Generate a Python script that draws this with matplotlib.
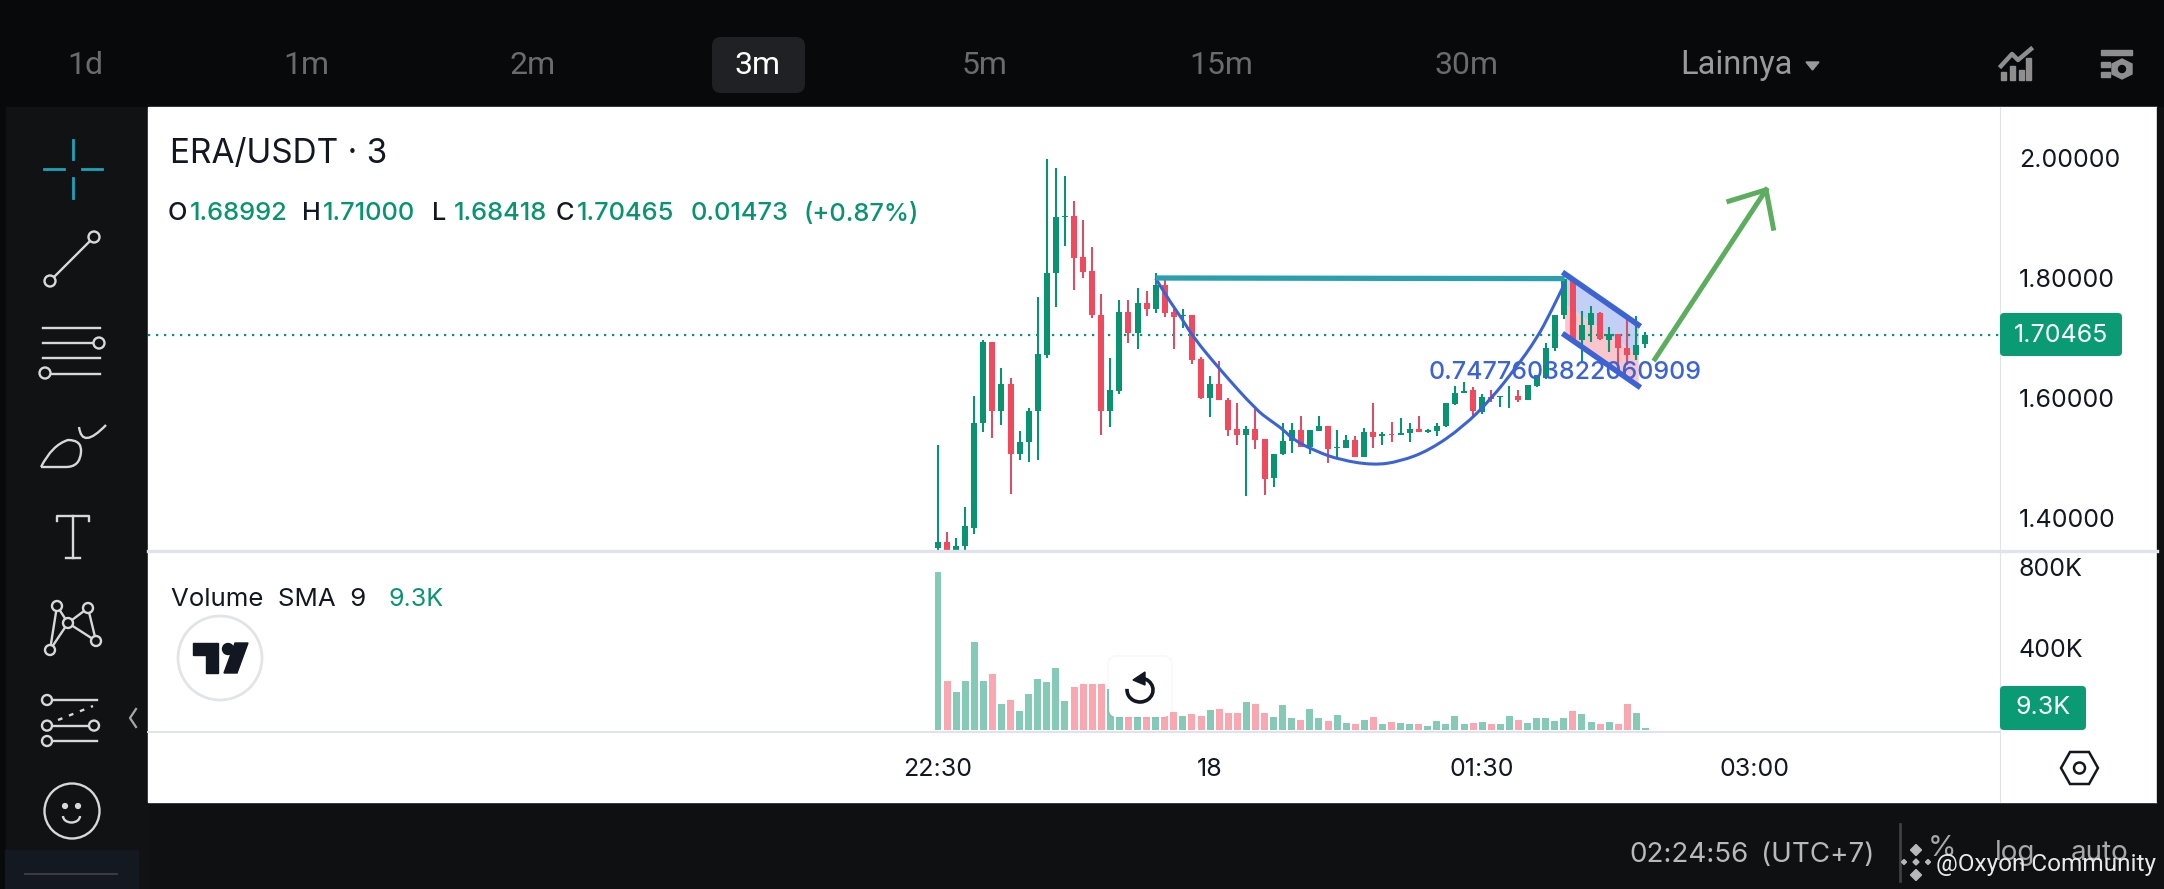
import numpy as np
import matplotlib
matplotlib.use("Agg")
import matplotlib.pyplot as plt
from matplotlib.patches import Circle, FancyBboxPatch, PathPatch, Polygon, Rectangle, Arc
from matplotlib.path import Path

W, H = 2164, 889
plt.rcParams["font.family"] = ["Inter", "DejaVu Sans"]

# ---- candles --------------------------------------------------------------
opens = [1.350, 1.360, 1.346, 1.353, 1.384, 1.558, 1.693, 1.579, 1.623, 1.507,
         1.527, 1.579, 1.672, 1.809, 1.901, 1.903, 1.835, 1.811, 1.739, 1.579,
         1.612, 1.744, 1.709, 1.758, 1.748, 1.788, 1.743, 1.736, 1.738, 1.665,
         1.600, 1.624, 1.597, 1.548, 1.539, 1.548, 1.531, 1.466, 1.506, 1.529,
         1.546, 1.519, 1.545, 1.553, 1.516, 1.517, 1.530, 1.502, 1.543, 1.537,
         1.540, 1.538, 1.541, 1.549, 1.544, 1.545, 1.553, 1.590, 1.609, 1.613,
         1.577, 1.602, 1.601, 1.603, 1.604, 1.597, 1.620, 1.633, 1.684, 1.739,
         1.798, 1.697, 1.721, 1.741, 1.697, 1.706, 1.684, 1.672, 1.690]
highs = [1.522, 1.377, 1.366, 1.418, 1.603, 1.697, 1.693, 1.650, 1.633, 1.545,
         1.584, 1.768, 1.999, 1.984, 1.970, 1.929, 1.897, 1.851, 1.773, 1.666,
         1.763, 1.763, 1.783, 1.778, 1.809, 1.802, 1.749, 1.749, 1.739, 1.669,
         1.636, 1.661, 1.600, 1.591, 1.553, 1.581, 1.531, 1.506, 1.558, 1.558,
         1.570, 1.547, 1.570, 1.553, 1.547, 1.539, 1.537, 1.550, 1.591, 1.544,
         1.560, 1.566, 1.559, 1.570, 1.549, 1.559, 1.591, 1.620, 1.626, 1.618,
         1.607, 1.614, 1.604, 1.620, 1.613, 1.622, 1.638, 1.692, 1.739, 1.799,
         1.799, 1.745, 1.753, 1.743, 1.718, 1.706, 1.738, 1.737, 1.710]
lows = [1.347, 1.344, 1.344, 1.347, 1.374, 1.544, 1.534, 1.555, 1.440, 1.497,
        1.494, 1.496, 1.666, 1.752, 1.853, 1.780, 1.800, 1.734, 1.539, 1.551,
        1.607, 1.691, 1.681, 1.737, 1.741, 1.735, 1.681, 1.716, 1.657, 1.599,
        1.569, 1.596, 1.537, 1.522, 1.436, 1.515, 1.438, 1.451, 1.505, 1.509,
        1.518, 1.506, 1.545, 1.492, 1.498, 1.517, 1.502, 1.501, 1.517, 1.521,
        1.526, 1.538, 1.526, 1.544, 1.542, 1.537, 1.552, 1.589, 1.608, 1.569,
        1.574, 1.593, 1.585, 1.584, 1.593, 1.597, 1.619, 1.631, 1.679, 1.732,
        1.694, 1.658, 1.694, 1.697, 1.676, 1.649, 1.655, 1.664, 1.684]
closes = [1.360, 1.347, 1.354, 1.386, 1.558, 1.693, 1.579, 1.623, 1.507, 1.527,
          1.579, 1.673, 1.809, 1.901, 1.903, 1.834, 1.810, 1.738, 1.579, 1.613,
          1.744, 1.709, 1.758, 1.748, 1.788, 1.741, 1.735, 1.738, 1.663, 1.600,
          1.624, 1.596, 1.547, 1.538, 1.548, 1.530, 1.465, 1.506, 1.529, 1.546,
          1.519, 1.547, 1.553, 1.515, 1.518, 1.530, 1.502, 1.543, 1.535, 1.540,
          1.538, 1.541, 1.549, 1.544, 1.546, 1.554, 1.591, 1.609, 1.611, 1.578,
          1.601, 1.598, 1.603, 1.604, 1.597, 1.622, 1.638, 1.684, 1.739, 1.798,
          1.697, 1.721, 1.741, 1.698, 1.706, 1.683, 1.672, 1.689, 1.705]
# volume in thousands
volumes = [775, 240, 182, 236, 427, 236, 270, 123, 147, 93,
           172, 250, 231, 304, 142, 211, 221, 221, 221, 201,
           191, 159, 142, 93, 110, 110, 88, 64, 74, 64,
           98, 103, 83, 79, 133, 123, 79, 59, 118, 54,
           49, 103, 54, 44, 69, 34, 29, 49, 59, 29,
           39, 34, 25, 25, 15, 44, 29, 64, 29, 34,
           39, 25, 29, 64, 49, 34, 54, 54, 44, 54,
           93, 74, 39, 29, 39, 29, 123, 83, 9.3]

price_ticks = [1.4, 1.6, 1.8, 2.0]
price_labels = ["1.40000", "1.60000", "1.80000", "2.00000"]
vol_ticks = [400, 800]
vol_labels = ["400K", "800K"]
time_ticks = [0, 30, 60, 90]
time_labels = ["22:30", "18", "01:30", "03:00"]
last_price = 1.70465
last_volume = 9.3

# ---- drawings on the chart (bar index, price) ------------------------------
cup_x = [24.0, 25.2, 27.0, 28.1, 31.1, 35.1, 36.6, 38.1, 39.2, 41.7, 44.3, 48.0,
         50.9, 54.2, 57.9, 60.9, 63.8, 66.0, 67.5, 69.1]
cup_y = [1.7995, 1.769, 1.730, 1.702, 1.647, 1.580, 1.563, 1.547, 1.530, 1.511, 1.497, 1.488,
         1.494, 1.513, 1.552, 1.597, 1.652, 1.699, 1.741, 1.791]
rim_x = [24.0, 69.1]
rim_y = [1.8, 1.799]
flag_x = [69.1, 77.2]
flag_top = [1.807, 1.722]
flag_mid = [1.756, 1.671]
flag_bot = [1.705, 1.620]
arrow_x = [79.05, 91.3]
arrow_y = [1.665, 1.947]
arrow_head_x = [87.2, 91.3, 92.1]
arrow_head_y = [1.928, 1.947, 1.883]

GREEN = "#0a9370"
RED = "#f04a5f"
TEXT = "#131722"
GRID = "#e0e3eb"


def px_axes(fig, x0, y0, x1, y1, **kw):
    return fig.add_axes([x0 / W, 1 - y1 / H, (x1 - x0) / W, (y1 - y0) / H], **kw)


def smooth_path(xs, ys):
    """Quadratic spline that bends at the read points, so the cup has no corners."""
    pts = np.column_stack([xs, ys])
    verts, codes = [pts[0]], [Path.MOVETO]
    for i in range(1, len(pts) - 1):
        end = pts[i + 1] if i == len(pts) - 2 else (pts[i] + pts[i + 1]) / 2
        verts += [pts[i], end]
        codes += [Path.CURVE3, Path.CURVE3]
    return Path(verts, codes)


fig = plt.figure(figsize=(W / 100, H / 100), dpi=100, facecolor="#0f1012")

# ---- dark app chrome underneath --------------------------------------------
bg = px_axes(fig, 0, 0, W, H, zorder=0)
bg.set_xlim(0, W); bg.set_ylim(H, 0); bg.axis("off")
bg.add_patch(Rectangle((0, 0), W, 107, color="#08090b"))
bg.add_patch(Rectangle((0, 107), 6, H, color="#08090b"))
bg.add_patch(Rectangle((6, 107), 142, H, color="#111214"))
bg.add_patch(Rectangle((5, 850), 133, 40, color="#141820"))
bg.add_patch(Rectangle((148, 107), 2009, 695, color="white"))
bg.add_patch(Rectangle((2157, 107), 8, 695, color="#0f1012"))
bg.add_patch(FancyBboxPatch((712, 37), 93, 56, boxstyle="round,pad=0,rounding_size=9",
                            color="#202124", lw=0))

for lab, x in zip(["1d", "1m", "2m", "5m", "15m", "30m"],
                  [85, 306, 533, 985, 1221, 1466]):
    bg.text(x, 65, lab, color="#6a6b6d", fontsize=23, ha="center", va="center", family="Roboto")
bg.text(758, 65, "3m", color="white", fontsize=23, ha="center", va="center", family="Roboto")
bg.text(1736, 65, "Lainnya", color="#9a9a9a", fontsize=23.5, ha="center", va="center", family="Roboto")
bg.add_patch(Polygon([(1806, 62), (1819, 62), (1812.5, 70)], color="#9a9a9a"))

# top right icons
c = "#8e8e8e"
for x, y0 in [(2001, 72), (2010, 66), (2019, 70), (2026, 58)]:
    bg.add_patch(Rectangle((x, y0), 5, 80 - y0, color=c))
bg.plot([2001, 2012, 2018, 2031], [66, 54, 60, 49], color=c, lw=3.2)
bg.add_patch(Rectangle((2101, 50), 31, 5, color=c))
bg.add_patch(Rectangle((2101, 62), 9, 5, color=c))
bg.add_patch(Rectangle((2101, 72), 9, 5, color=c))
bg.add_patch(Polygon([(2122, 59), (2132, 64), (2132, 74), (2122, 79), (2112, 74), (2112, 64)], color=c))
bg.add_patch(Circle((2122, 69), 3.5, color="#08090b"))

# toolbar icons
ic = "#d8d8d8"
lw = 1.7


def ring(x, y, r=5.5):
    bg.add_patch(Circle((x, y), r, fc="#111214", ec=ic, lw=lw, zorder=4))


teal = "#1ca3b8"
bg.plot([44, 64], [168.5, 168.5], color=teal, lw=2)
bg.plot([82, 102], [168.5, 168.5], color=teal, lw=2)
bg.plot([73, 73], [140, 159], color=teal, lw=2)
bg.plot([73, 73], [178, 198], color=teal, lw=2)

bg.plot([50, 94], [281, 237], color=ic, lw=lw)
ring(50, 281); ring(94, 237)

for y in [327.5, 342.6, 358, 373.5]:
    bg.plot([43, 100], [y, y], color=ic, lw=lw)
ring(99, 343); ring(45, 373)

brush = Path([(41, 467), (52, 445), (68, 440), (82, 440), (81, 452), (80, 467), (66, 467), (41, 467)],
             [Path.MOVETO, Path.CURVE3, Path.CURVE3, Path.CURVE3, Path.CURVE3, Path.CURVE3, Path.CURVE3, Path.LINETO])
bg.add_patch(PathPatch(brush, fc="none", ec=ic, lw=lw))
hook = Path([(79, 427), (82, 450), (106, 425)], [Path.MOVETO, Path.CURVE3, Path.CURVE3])
bg.add_patch(PathPatch(hook, fc="none", ec=ic, lw=lw))

bg.plot([57, 57, 89, 89], [521, 516, 516, 521], color=ic, lw=lw)
bg.plot([73, 73], [516, 558], color=ic, lw=lw)
bg.plot([66, 80], [558, 558], color=ic, lw=lw)

nodes = [(57, 606), (88, 608), (68, 623), (50, 650), (96, 641)]
for a, b in [(0, 2), (0, 3), (2, 3), (2, 1), (2, 4), (1, 4)]:
    bg.plot([nodes[a][0], nodes[b][0]], [nodes[a][1], nodes[b][1]], color=ic, lw=lw)
for n in nodes:
    ring(n[0], n[1], 5)

for y in [700, 725.6, 741]:
    bg.plot([47, 97], [y, y], color=ic, lw=lw)
bg.plot([58, 93], [720, 706], color=ic, lw=lw, ls=(0, (2, 3)))
ring(47, 700, 5); ring(47, 725.6, 5); ring(94, 725.6, 5); ring(47, 741, 5)

bg.add_patch(Circle((72, 811), 27.5, fc="none", ec=ic, lw=lw))
bg.add_patch(Circle((65, 806), 2.4, color=ic))
bg.add_patch(Circle((78, 806), 2.4, color=ic))
bg.add_patch(Arc((71.5, 816), 17, 13, theta1=0, theta2=180, ec=ic, lw=lw))
bg.plot([136, 130, 136], [709, 718, 727], color="#a8a8a8", lw=1.6)
bg.plot([25, 117], [874, 874], color="#3a3d44", lw=1.4)

# bottom bar
bg.text(1629, 855, "02:24:56", color="#b9b9b9", fontsize=20, ha="left", va="center")
bg.text(1761, 855, "(UTC+7)", color="#b9b9b9", fontsize=20, ha="left", va="center")
bg.plot([1900, 1900], [824, 881], color="#3f4045", lw=2)
bg.text(1942, 849, "%", color="#a8a8a8", fontsize=21, ha="center", va="center")
bg.text(2015, 853, "log", color="#a8a8a8", fontsize=20, ha="center", va="center")
bg.text(2100, 853, "auto", color="#a8a8a8", fontsize=20, ha="center", va="center")

# ---- price pane -------------------------------------------------------------
bar_px = 9.07
x_lim = ((148 - 938) / bar_px, (2000 - 938) / bar_px)

ax = px_axes(fig, 148, 107, 2000, 551, zorder=2)
ax.patch.set_alpha(0)
ax.set_xlim(*x_lim)
ax.set_ylim(2 - (551 - 158) / 600, 2 - (107 - 158) / 600)

idx = np.arange(len(opens))
o, h, l, cl = map(np.array, (opens, highs, lows, closes))
up = cl >= o
ax.fill_between(flag_x, flag_mid, flag_top, color="#c3d0f6", lw=0, zorder=1)
ax.fill_between(flag_x, flag_bot, flag_mid, color="#f9c6cd", lw=0, zorder=1)
ax.axhline(last_price, color=GREEN, lw=1.6, ls=(0, (1, 2.6)), zorder=1.5)
ax.vlines(idx, l, h, colors=np.where(up, GREEN, "#d45269"), lw=1.5, zorder=2)
ax.bar(idx, cl - o, bottom=o, width=0.66, color=np.where(up, GREEN, RED), lw=0, zorder=3)

ax.add_patch(PathPatch(smooth_path(cup_x, cup_y), fc="none", ec="#3b63d4", lw=2.2, zorder=4))
ax.plot(rim_x, rim_y, color="#2b9fae", lw=3.8, zorder=4, solid_capstyle="butt")
ax.plot(flag_x, flag_top, color="#3b63d4", lw=4, zorder=4)
ax.plot(flag_x, flag_bot, color="#3b63d4", lw=4, zorder=4)
ax.plot(arrow_x, arrow_y, color="#5cae5e", lw=3.6, zorder=4)
ax.plot(arrow_head_x, arrow_head_y, color="#5cae5e", lw=3.6, zorder=4)
ax.text(69.1, 1.643, "0.7477603822060909", color="#3b63d4", fontsize=18, ha="center", va="center",
        fontweight="medium", zorder=5)

ax.set_xticks([])
ax.yaxis.tick_right()
ax.set_yticks(price_ticks, price_labels)
ax.tick_params(axis="y", length=0, pad=13.5, labelsize=18, labelcolor=TEXT)
for s in ["top", "left", "bottom"]:
    ax.spines[s].set_visible(False)
ax.spines["right"].set_color(GRID)

# ---- volume pane ------------------------------------------------------------
av = px_axes(fig, 148, 551, 2000, 732, zorder=2)
av.patch.set_alpha(0)
av.set_xlim(*x_lim)
av.set_ylim(-2.5 * 4.908, (729.5 - 551) * 4.908)
av.bar(idx, volumes, width=0.77, color=np.where(up, "#85cab6", "#f9a8b2"), lw=0)
av.set_xticks([])
av.yaxis.tick_right()
av.set_yticks(vol_ticks, vol_labels)
av.tick_params(axis="y", length=0, pad=13.5, labelsize=18, labelcolor=TEXT)
for s in ["top", "left"]:
    av.spines[s].set_visible(False)
av.spines["right"].set_color(GRID)
av.spines["bottom"].set_color(GRID)
av.spines["bottom"].set_linewidth(1.4)

# ---- time axis --------------------------------------------------------------
at = px_axes(fig, 148, 732, 2000, 802, zorder=2)
at.patch.set_alpha(0)
at.set_xlim(*x_lim)
at.set_yticks([])
at.set_xticks(time_ticks, time_labels)
at.tick_params(axis="x", length=0, pad=-32, labelsize=18, labelcolor=TEXT)
for s in ["top", "left", "bottom"]:
    at.spines[s].set_visible(False)
at.spines["right"].set_color(GRID)

# ---- overlay: legends, badges, widgets ---------------------------------------
top = px_axes(fig, 0, 0, W, H, zorder=5)
top.set_xlim(0, W); top.set_ylim(H, 0); top.axis("off"); top.patch.set_alpha(0)

# pane divider
top.plot([148, 2157], [551, 551], color=GRID, lw=2.4)

top.text(170, 154, "ERA/USDT · 3", color=TEXT, fontsize=24, ha="left", va="center")
ohlc = [(168, "O", TEXT), (190, "1.68992", GREEN), (302, "H", TEXT), (323, "1.71000", GREEN),
        (432, "L", TEXT), (454, "1.68418", GREEN), (556, "C", TEXT), (577, "1.70465", GREEN),
        (691, "0.01473", GREEN), (803, "(+0.87%)", GREEN)]
for x, s, col in ohlc:
    top.text(x, 214, s, color=col, fontsize=18.3, ha="left", va="center", fontweight="medium")

top.text(171, 600, "Volume  SMA  9", color=TEXT, fontsize=18.6, ha="left", va="center")
top.text(388, 600, f"{last_volume}K", color=GREEN, fontsize=18, ha="left", va="center")

# last value badges
top.add_patch(FancyBboxPatch((2000, 313), 122, 43, boxstyle="round,pad=0,rounding_size=4", color="#0a9b74", lw=0))
top.text(2061, 335, f"{last_price:.5f}", color="white", fontsize=18, ha="center", va="center")
top.add_patch(FancyBboxPatch((2000, 686), 86, 44, boxstyle="round,pad=0,rounding_size=4", color="#0a9b74", lw=0))
top.text(2043, 708, f"{last_volume}K", color="white", fontsize=18, ha="center", va="center")

# tradingview badge
top.add_patch(Circle((220, 658), 42, fc="white", ec="#e2e4e9", lw=2))
top.add_patch(Polygon([(193, 643), (218, 643), (218, 673), (206, 673), (206, 655), (193, 655)], color=TEXT))
top.add_patch(Circle((228, 649), 5.5, color=TEXT))
top.add_patch(Polygon([(235, 643), (248, 643), (237, 673), (224, 673)], color=TEXT))

# reset button
top.add_patch(FancyBboxPatch((1107, 655), 66, 64, boxstyle="round,pad=0,rounding_size=10", color="#000000", alpha=0.025, lw=0))
top.add_patch(FancyBboxPatch((1109, 657), 62, 60, boxstyle="round,pad=0,rounding_size=8", color="white", lw=0))
top.add_patch(Arc((1140, 690), 26, 24, theta1=-80, theta2=185, ec=TEXT, lw=2.6))
top.add_patch(Polygon([(1145, 672), (1145, 685), (1133, 680)], color=TEXT))

# settings hexagon
top.add_patch(Polygon([(2061, 768), (2070, 752), (2089, 752), (2098, 768), (2089, 784), (2070, 784)],
                      fc="white", ec=TEXT, lw=1.8))
top.add_patch(Circle((2079.5, 768), 5.5, fc="white", ec=TEXT, lw=1.8))

# watermark
for cx, cy, r in [(1916, 850, 5.5), (1916, 875, 5.5), (1904, 862, 2.5), (1928, 862, 2.5), (1916, 862, 3)]:
    top.add_patch(Polygon([(cx - r, cy), (cx, cy - r), (cx + r, cy), (cx, cy + r)], color="#b9b9b9"))
top.text(1936, 865, "@Oxyon Community", color="#e8e8e8", fontsize=17.6, ha="left", va="center", family="Roboto")

fig.savefig("out.png", dpi=100, facecolor=fig.get_facecolor())
